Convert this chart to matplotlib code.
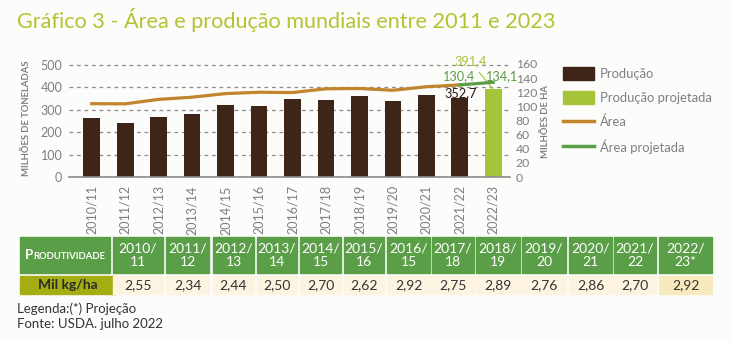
import numpy as np
import matplotlib.pyplot as plt
from matplotlib.patches import Patch, Rectangle
from matplotlib.lines import Line2D

plt.rcParams['font.family'] = ['Lato', 'DejaVu Sans']

# data
safras = ['2010/11', '2011/12', '2012/13', '2013/14', '2014/15', '2015/16', '2016/17',
          '2017/18', '2018/19', '2019/20', '2020/21', '2021/22', '2022/23']
producao = [264.7, 240.4, 268.8, 282.9, 320.0, 315.9, 349.3, 342.1, 362.1, 339.9, 368.1, 352.7, 391.4]
area = [103.8, 103.6, 109.9, 113.0, 118.1, 120.0, 119.6, 124.9, 125.3, 122.8, 127.8, 130.4, 134.1]

tab_header = ['2010/\n11', '2011/\n12', '2012/\n13', '2013/\n14', '2014/\n15', '2015/\n16', '2016/\n15',
              '2017/\n18', '2018/\n19', '2019/\n20', '2020/\n21', '2021/\n22', '2022/\n23*']
produtividade = ['2,55', '2,34', '2,44', '2,50', '2,70', '2,62', '2,92', '2,75', '2,89', '2,76', '2,86', '2,70', '2,92']

bg = '#fcfcfa'
brown = '#3f2517'
lgreen = '#a5c43a'
orange = '#c1852c'
green = '#5b9e48'
gray = '#7d7f82'
title_col = '#b5c234'

fig = plt.figure(figsize=(7.32, 3.41), dpi=100, facecolor=bg)
W, H = 732, 341

ax = fig.add_axes([69.3 / W, 1 - 177 / H, (510 - 69.3) / W, 113 / H])
ax.set_facecolor('none')
x = np.arange(len(safras))
cores = [brown] * (len(safras) - 1) + [lgreen]
ax.bar(x, producao, width=0.5, color=cores, zorder=2)
ax.set_xlim(-0.67, 12.5)
ax.set_ylim(0, 505)
ax.set_yticks([0, 100, 200, 300, 400, 500])
ax.yaxis.grid(True, linestyle=(0, (3, 3)), color='#8c8c8c', lw=0.9, zorder=0)
ax.set_xticks(x)
ax.set_xticklabels(safras, rotation=90, fontsize=8.5, color=gray)
ax.tick_params(axis='both', length=0, colors=gray, labelsize=9)
ax.tick_params(axis='x', pad=6)
ax.tick_params(axis='y', pad=5)
for s in ['top', 'right', 'left']:
    ax.spines[s].set_visible(False)
ax.spines['bottom'].set_color('#8c8c8c')
ax.spines['bottom'].set_linewidth(1.2)

ax2 = ax.twinx()
ax2.set_ylim(0, 160)
ax2.set_yticks(range(0, 161, 20))
ax2.tick_params(axis='y', length=0, colors=gray, labelsize=8.8, pad=4)
for s in ax2.spines.values():
    s.set_visible(False)
ax2.plot(x[:12], area[:12], color=orange, lw=2.3, zorder=3)
ax2.plot(x[11:], area[11:], color=green, lw=2.3, zorder=3)

# value labels
ax.annotate('352,7', (11, producao[11]), xytext=(1, 5), textcoords='offset pixels',
            ha='center', va='center', fontsize=9.2, color='#2a1a10')
ax2.annotate('130,4', (11, area[11]), xytext=(-2, 9), textcoords='offset pixels',
             ha='center', va='center', fontsize=9.2, color=green)
ax2.annotate('134,1', (12, area[12]), xytext=(8, 6), textcoords='offset pixels',
             ha='center', va='center', fontsize=9.2, color=green)
ax.annotate('391,4', (12, producao[12]), xytext=(-23, 28), textcoords='offset pixels',
            ha='center', va='center', fontsize=9.2, color=lgreen,
            arrowprops=dict(arrowstyle='-', color=lgreen, lw=0.8, shrinkA=2, shrinkB=0))

fig.text(27 / W, 1 - 118 / H, 'MILHÕES DE TONELADAS', rotation=90, ha='center', va='center',
         fontsize=6.8, fontweight='bold', color=gray)
fig.text(545 / W, 1 - 122 / H, 'MILHÕES DE HA', rotation=90, ha='center', va='center',
         fontsize=6.8, fontweight='bold', color=gray)

handles = [Patch(color=brown), Patch(color=lgreen),
           Line2D([], [], color=orange, lw=2.5), Line2D([], [], color=green, lw=2.5)]
labels = ['Produção', 'Produção projetada', 'Área', 'Área projetada']
fig.legend(handles, labels, loc='upper left', bbox_to_anchor=(563 / W, 1 - 67 / H),
           frameon=False, fontsize=9.4, labelcolor=gray, handlelength=2.35, handleheight=1.15,
           handletextpad=0.5, labelspacing=0.85, borderpad=0, borderaxespad=0)

fig.text(17 / W, 1 - 20 / H, 'Gráfico 3 - Área e produção mundiais entre 2011 e 2023',
         ha='left', va='center', fontsize=15.6, color=title_col)

# table
tb = fig.add_axes([0, 0, 1, 1])
tb.set_xlim(0, W)
tb.set_ylim(H, 0)
tb.axis('off')
col_x = [(113, 163), (166, 209), (213, 254), (257, 297), (300, 341), (344, 384), (387, 430),
         (432, 474), (476, 520), (522, 566), (569, 612), (614, 656), (659, 712)]
hy0, hy1 = 237, 273
dy0, dy1 = 276, 294
tb.add_patch(Rectangle((20, hy0), 90, hy1 - hy0, color=green))
tb.add_patch(Rectangle((20, dy0), 96, dy1 - dy0, color='#a4ad12'))
t = tb.text(25, 255, 'P', ha='left', va='center', fontsize=9.5, color='white', fontweight='bold')
tb.annotate('RODUTIVIDADE', xy=(1, 0), xycoords=t, va='bottom', ha='left', fontsize=6.8,
            color='white', fontweight='bold')
tb.text(68, 285, 'Mil kg/ha', ha='center', va='center', fontsize=10, color='#2b2b2b', fontweight='bold')
for i, (a, b) in enumerate(col_x):
    tb.add_patch(Rectangle((a, hy0), b - a, hy1 - hy0, color=green))
    tb.text((a + b) / 2, 255, tab_header[i], ha='center', va='center', fontsize=10,
            color='white', linespacing=1.1)
    cell = '#f8eabf' if i == len(col_x) - 1 else '#fcf4e0'
    tb.add_patch(Rectangle((a, dy0), b - a, dy1 - dy0, color=cell))
    tb.text((a + b) / 2, 285, produtividade[i], ha='center', va='center', fontsize=10, color='#333333')

tb.text(17, 309, 'Legenda:(*) Projeção', ha='left', va='center', fontsize=9.5, color='#333333')
tb.text(17, 324, 'Fonte: USDA. julho 2022', ha='left', va='center', fontsize=9.5, color='#333333')

fig.savefig('out.png', dpi=100, facecolor=bg)
